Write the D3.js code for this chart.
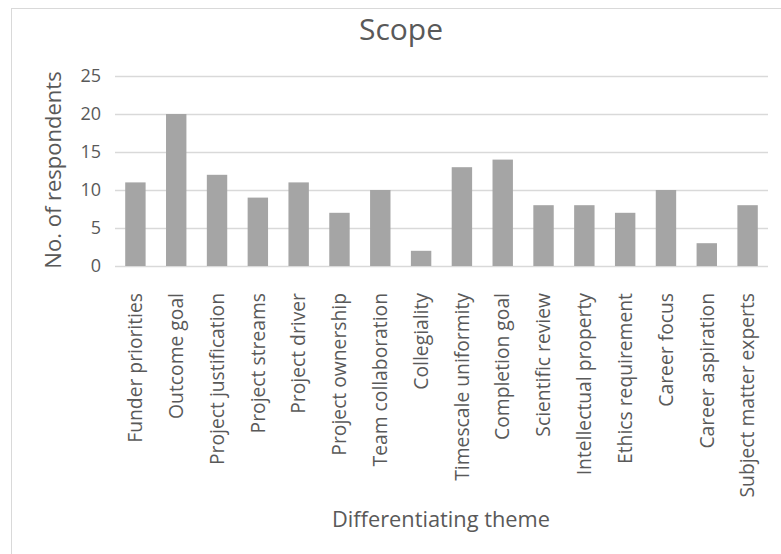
<!DOCTYPE html>
<html>
<head>
<meta charset="utf-8">
<script src="https://cdn.jsdelivr.net/npm/d3@7"></script>
<style>
  html, body { margin: 0; padding: 0; background: #fff; }
  svg { display: block; }
  text { font-family: "Open Sans", sans-serif; fill: #595959; }
</style>
</head>
<body>
<div id="chart"></div>
<script>
// Respondent counts per differentiating theme
const themes = [
  "Funder priorities", "Outcome goal", "Project justification", "Project streams",
  "Project driver", "Project ownership", "Team collaboration", "Collegiality",
  "Timescale uniformity", "Completion goal", "Scientific review", "Intellectual property",
  "Ethics requirement", "Career focus", "Career aspiration", "Subject matter experts"
];
const respondents = [11, 20, 12, 9, 11, 7, 10, 2, 13, 14, 8, 8, 7, 10, 3, 8];
const yTicks = [0, 5, 10, 15, 20, 25];

const chartTitle = "Scope";
const xTitle = "Differentiating theme";
const yTitle = "No. of respondents";

const FONT = "'Open Sans', sans-serif";
const W = 781, H = 554;
const plot = { left: 115, right: 768, top: 76, bottom: 266 };

const svg = d3.select("#chart").append("svg")
  .attr("width", W).attr("height", H);

// chart area frame
svg.append("rect")
  .attr("x", 11.5).attr("y", 8.5)
  .attr("width", W + 20).attr("height", H + 20)
  .attr("fill", "none").attr("stroke", "#d9d9d9").attr("stroke-width", 1);

const x = d3.scaleBand()
  .domain(themes)
  .range([plot.left, plot.right])
  .paddingInner(0.5).paddingOuter(0.25);

const y = d3.scaleLinear()
  .domain([0, 25])
  .range([plot.bottom, plot.top]);

// horizontal gridlines
svg.append("g")
  .selectAll("line")
  .data(yTicks)
  .join("line")
  .attr("x1", plot.left).attr("x2", plot.right)
  .attr("y1", d => Math.round(y(d)) + 0.5).attr("y2", d => Math.round(y(d)) + 0.5)
  .attr("stroke", "#d9d9d9").attr("stroke-width", 1.3);

// y-axis tick labels
const yAxis = d3.axisLeft(y).tickValues(yTicks).tickSize(0).tickPadding(14);
const yg = svg.append("g").attr("transform", `translate(${plot.left},0)`).call(yAxis);
yg.select(".domain").remove();
yg.selectAll("text")
  .style("font-family", FONT)
  .style("font-size", "18px").attr("fill", "#595959");

// bars
svg.append("g")
  .selectAll("rect")
  .data(themes.map((t, i) => ({ theme: t, value: respondents[i] })))
  .join("rect")
  .attr("x", d => x(d.theme))
  .attr("width", x.bandwidth())
  .attr("y", d => y(d.value))
  .attr("height", d => y(0) - y(d.value))
  .attr("fill", "#a5a5a5");

// category labels (rotated)
const xAxis = d3.axisBottom(x).tickSize(0).tickPadding(0);
const xg = svg.append("g").attr("transform", `translate(0,${plot.bottom})`).call(xAxis);
xg.select(".domain").remove();
xg.selectAll("text")
  .style("font-family", FONT)
  .style("font-size", "19.3px").attr("fill", "#595959")
  .attr("transform", "rotate(-90)")
  .attr("text-anchor", "end")
  .attr("x", -27).attr("y", 0).attr("dy", "0.35em");

// titles
svg.append("text")
  .attr("x", 401).attr("y", 40)
  .attr("text-anchor", "middle")
  .style("font-size", "30px")
  .text(chartTitle);

svg.append("text")
  .attr("x", 441).attr("y", 527)
  .attr("text-anchor", "middle")
  .style("font-size", "21.8px")
  .text(xTitle);

svg.append("text")
  .attr("transform", `translate(61,170) rotate(-90)`)
  .attr("text-anchor", "middle")
  .style("font-size", "22px")
  .text(yTitle);
</script>
</body>
</html>
